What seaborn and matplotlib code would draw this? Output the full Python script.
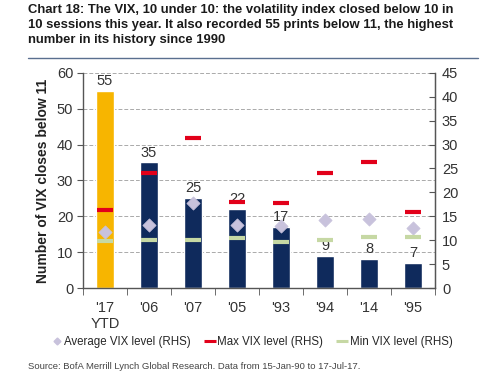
import matplotlib
matplotlib.use("Agg")
import matplotlib.pyplot as plt
import seaborn as sns
import numpy as np
import pandas as pd
from matplotlib.lines import Line2D

cats = ["'17\nYTD", "'06", "'07", "'05", "'93", "'94", "'14", "'95"]
closes_below_11 = [55, 35, 25, 22, 17, 9, 8, 7]
avg_vix = [11.7, 13.1, 17.8, 13.1, 13.0, 14.2, 14.4, 12.6]
max_vix = [16.3, 24.1, 31.4, 18.0, 17.7, 24.1, 26.4, 15.9]
min_vix = [9.8, 10.1, 10.1, 10.5, 9.6, 10.1, 10.7, 10.7]
left_ticks = [0, 10, 20, 30, 40, 50, 60]
right_ticks = [0, 5, 10, 15, 20, 25, 30, 35, 40, 45]

YELLOW = "#F7B500"
NAVY = "#0F2A5C"
RED = "#E2001A"
LAV = "#C8C2DC"
GREEN = "#C6D8A4"
TXT = "#333333"
FONT = ["Liberation Sans", "DejaVu Sans"]

sns.set_style("white")
plt.rcParams["font.family"] = FONT

fig = plt.figure(figsize=(5, 3.83), dpi=100)
ax = fig.add_axes([0.166, 0.248, 0.704, 0.562])

df = pd.DataFrame({"cat": cats, "n": closes_below_11})
colors = [YELLOW] + [NAVY] * (len(cats) - 1)
sns.barplot(data=df, x="cat", y="n", hue="cat", palette=colors, legend=False,
            width=0.4, ax=ax, saturation=1)
ax.set_xlim(-0.5, len(cats) - 0.5)
ax.set_ylim(0, 60)
ax.set_yticks(left_ticks)
ax.yaxis.grid(True, linestyle=(0, (4, 2)), color="#AAAAAA", linewidth=0.7)
ax.set_axisbelow(True)
for i, v in enumerate(closes_below_11):
    ax.text(i, v + 0.8, str(v), ha="center", va="bottom", fontsize=10.5, color=TXT)
ax.set_xlabel("")
ax.set_ylabel("Number of VIX closes below 11", fontsize=10, fontweight="bold", color="#222222",
              labelpad=5)
ax.tick_params(axis="y", labelsize=10.5, labelcolor=TXT, length=4, direction="out", left=True,
               color="#555555", pad=3)
ax.tick_params(axis="x", labelsize=10.5, labelcolor=TXT, length=0, pad=9)
ax.set_xticks(np.arange(-0.5, len(cats), 1.0), minor=True)
ax.tick_params(axis="x", which="minor", length=5, direction="out", bottom=True, color="#555555")
ax.spines["top"].set_visible(False)
for s in ["left", "bottom", "right"]:
    ax.spines[s].set_color("#555555")
    ax.spines[s].set_linewidth(1.0)

ax2 = ax.twinx()
sns.scatterplot(x=cats, y=avg_vix, marker="D", s=45, color=LAV, edgecolor=LAV, ax=ax2, zorder=3)
sns.scatterplot(x=cats, y=max_vix, marker="_", s=130, color=RED, linewidth=3, ax=ax2, zorder=3)
sns.scatterplot(x=cats, y=min_vix, marker="_", s=130, color=GREEN, linewidth=3, ax=ax2, zorder=3)
ax2.set_ylim(0, 45)
ax2.set_yticks(right_ticks)
ax2.tick_params(axis="y", labelsize=10.5, labelcolor=TXT, length=4, direction="in", right=True,
                color="#555555", pad=5)
ax2.spines["top"].set_visible(False)
ax2.spines["right"].set_color("#555555")
ax2.spines["left"].set_visible(False)
ax2.spines["bottom"].set_visible(False)
ax2.set_ylabel("")

fig.text(0.055, 0.99, "Chart 18: The VIX, 10 under 10: the volatility index closed below 10 in\n"
         "10 sessions this year. It also recorded 55 prints below 11, the highest\n"
         "number in its history since 1990",
         ha="left", va="top", fontsize=9.4, fontweight="bold", color="#1a1a1a", linespacing=1.32)
fig.add_artist(Line2D([0.055, 0.955], [0.848, 0.848], color="#5A6F8F", linewidth=1.0))

handles = [
    Line2D([], [], marker="D", color=LAV, linestyle="none", markersize=3.5),
    Line2D([], [], marker="_", color=RED, linestyle="none", markersize=8, markeredgewidth=2.2),
    Line2D([], [], marker="_", color=GREEN, linestyle="none", markersize=8, markeredgewidth=2.2),
]
labels = ["Average VIX level (RHS)", "Max VIX level (RHS)", "Min VIX level (RHS)"]
fig.legend(handles, labels, loc="center", bbox_to_anchor=(0.505, 0.107), ncol=3, frameon=False,
           handlelength=0.7, handletextpad=0.3, columnspacing=1.3,
           prop={"family": FONT, "size": 8.3})

fig.text(0.055, 0.042, "Source: BofA Merrill Lynch Global Research. Data from 15-Jan-90 to 17-Jul-17.",
         ha="left", va="center", fontsize=6.8, color="#444444")

fig.savefig("out.png", dpi=100)
